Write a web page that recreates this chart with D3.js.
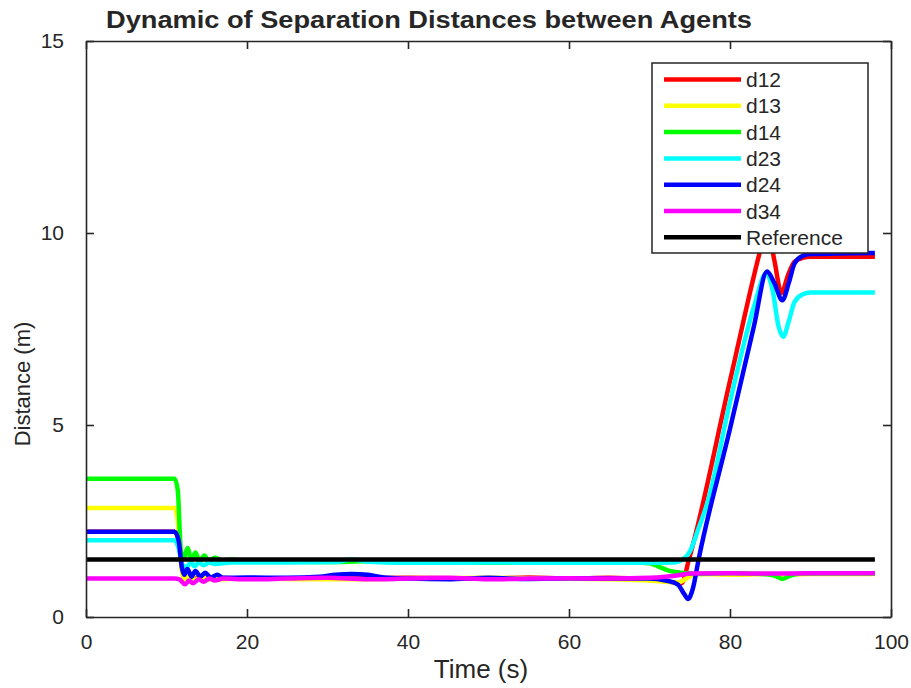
<!DOCTYPE html>
<html>
<head>
<meta charset="utf-8">
<script src="https://cdn.jsdelivr.net/npm/d3@7"></script>
<style>
  body { margin: 0; background: #fff; }
  text { font-family: "Liberation Sans", Arial, sans-serif; fill: #262626; }
</style>
</head>
<body>
<div id="chart"></div>
<script>
// series as [time (s), distance (m)]
const d12 = [[0,2.22],[11,2.22],[11.5,2.0],[12,1.2],[12.3,0.95],[12.8,1.05],[13.3,0.97],[14,1.03],[15,0.98],[16,1.02],[20,1.0],[30,1.0],[40,1.02],[50,1.0],[55,1.03],[60,1.0],[65,1.02],[70,0.97],[72,0.93],[74,0.88],[74.9,1.5],[80,6.15],[83.7,9.5],[84.6,10.2],[85.5,9.3],[86.4,8.44],[87.2,8.9],[88,9.25],[89,9.35],[90,9.38],[98,9.38]];
const d13 = [[0,2.84],[11,2.84],[11.4,2.5],[11.9,1.2],[12.3,0.95],[12.8,1.05],[13.5,0.97],[14.3,1.03],[15.5,0.98],[20,1.0],[30,0.98],[40,1.0],[50,1.02],[60,1.0],[65,0.98],[70,0.95],[72,0.92],[73.5,0.9],[75,1.05],[76,1.12],[80,1.1],[85,1.12],[87,1.1],[90,1.12],[98,1.12]];
const d14 = [[0,3.6],[11,3.6],[11.4,3.3],[11.8,1.7],[12.2,1.55],[12.6,1.8],[13.1,1.5],[13.6,1.68],[14.1,1.45],[14.7,1.6],[15.3,1.45],[16,1.55],[17,1.45],[18,1.5],[20,1.45],[25,1.44],[30,1.43],[35,1.45],[40,1.42],[45,1.44],[50,1.41],[55,1.43],[60,1.42],[65,1.41],[68,1.42],[70,1.4],[71.3,1.3],[72.5,1.2],[74,1.15],[76,1.12],[80,1.14],[84,1.12],[85.5,1.08],[86.5,0.99],[87.5,1.08],[89,1.13],[98,1.13]];
const d23 = [[0,2.0],[11,2.0],[11.5,1.8],[12,1.35],[12.5,1.3],[13,1.42],[13.5,1.32],[14,1.42],[14.6,1.35],[15.3,1.42],[16,1.38],[18,1.42],[25,1.42],[31,1.43],[33,1.5],[35,1.44],[40,1.41],[50,1.42],[60,1.41],[70,1.41],[73,1.42],[74,1.48],[75,1.7],[76,2.25],[77.3,3.05],[80,5.6],[83,8.1],[84.5,8.95],[85.3,8.5],[86,7.6],[86.6,7.3],[87.3,7.7],[88,8.2],[89,8.4],[90,8.45],[98,8.45]];
const d24 = [[0,2.22],[11,2.22],[11.5,2.0],[11.9,1.3],[12.2,1.1],[12.6,1.25],[13.1,1.05],[13.6,1.2],[14.2,1.05],[14.8,1.15],[15.5,1.03],[16.3,1.1],[17,1.02],[20,1.03],[25,1.02],[29,1.05],[31,1.1],[33,1.12],[35,1.1],[37,1.03],[40,1.0],[45,0.98],[50,1.02],[55,0.99],[60,1.01],[65,1.0],[70,1.0],[72,0.95],[73.5,0.85],[74.3,0.6],[74.8,0.47],[75.4,0.75],[76.1,1.5],[80,4.9],[83,7.6],[84.6,9.0],[85.5,8.7],[86.5,8.25],[87.3,8.7],[88,9.2],[89,9.4],[90,9.45],[98,9.48]];
const d34 = [[0,1.0],[11,1.0],[11.6,0.98],[12.3,0.85],[12.8,0.95],[13.3,0.88],[14,0.98],[14.6,0.92],[15.3,1.0],[16,0.95],[17,1.0],[20,0.98],[25,1.0],[30,1.02],[35,0.98],[40,1.0],[45,1.02],[50,0.98],[55,1.0],[60,1.01],[65,1.0],[70,1.02],[72,1.05],[74,1.1],[75,1.13],[80,1.14],[85,1.13],[90,1.14],[98,1.14]];
const reference = [[0,1.5],[98,1.5]];

const seriesNames = ["d12", "d13", "d14", "d23", "d24", "d34", "Reference"];
const seriesColors = ["#ff0000", "#ffff00", "#00ff00", "#00ffff", "#0000ff", "#ff00ff", "#000000"];
const xTicks = [0, 20, 40, 60, 80, 100];
const yTicks = [0, 5, 10, 15];

const width = 911, height = 688;
const margin = { top: 41, left: 86 };
const innerWidth = 891 - margin.left;
const innerHeight = 617 - margin.top;

const svg = d3.select("#chart")
    .append("svg")
    .attr("width", width)
    .attr("height", height);

const g = svg.append("g")
    .attr("transform", `translate(${margin.left},${margin.top})`);

const xScale = d3.scaleLinear().domain([0, 100]).range([0, innerWidth]);
const yScale = d3.scaleLinear().domain([0, 15]).range([innerHeight, 0]);

// lines
const line = d3.line()
    .x(d => xScale(d[0]))
    .y(d => yScale(d[1]))
    .curve(d3.curveMonotoneX);

const allSeries = [d12, d13, d14, d23, d24, d34, reference];
allSeries.forEach((s, i) => {
    g.append("path")
        .datum(s)
        .attr("fill", "none")
        .attr("stroke", seriesColors[i])
        .attr("stroke-width", 4.5)
        .attr("stroke-linejoin", "round")
        .attr("d", line);
});

// axes box, ticks pointing inwards
function styleAxis(sel) {
    sel.select(".domain").attr("stroke", "#262626").attr("stroke-width", 1.6);
    sel.selectAll(".tick line").attr("stroke", "#262626").attr("stroke-width", 1.6);
    sel.selectAll(".tick text")
        .attr("font-family", "Liberation Sans, Arial, sans-serif")
        .attr("font-size", 21)
        .attr("fill", "#262626");
}
function noLabels(sel) {
    sel.selectAll(".tick text").remove();
}

g.append("g")
    .attr("transform", `translate(0,${innerHeight})`)
    .call(d3.axisBottom(xScale).tickValues(xTicks).tickSizeInner(-8).tickSizeOuter(0).tickPadding(17))
    .call(styleAxis);

g.append("g")
    .call(d3.axisTop(xScale).tickValues(xTicks).tickSizeInner(-8).tickSizeOuter(0))
    .call(styleAxis)
    .call(noLabels);

g.append("g")
    .call(d3.axisLeft(yScale).tickValues(yTicks).tickSizeInner(-8).tickSizeOuter(0).tickPadding(22))
    .call(styleAxis);

g.append("g")
    .attr("transform", `translate(${innerWidth},0)`)
    .call(d3.axisRight(yScale).tickValues(yTicks).tickSizeInner(-8).tickSizeOuter(0))
    .call(styleAxis)
    .call(noLabels);

// legend
const legend = svg.append("g").attr("transform", "translate(652,63)");
legend.append("rect")
    .attr("width", 216)
    .attr("height", 190)
    .attr("fill", "#fff")
    .attr("stroke", "#262626")
    .attr("stroke-width", 1.5);

seriesNames.forEach((name, i) => {
    const y = 16.5 + i * 26.3;
    legend.append("line")
        .attr("x1", 12).attr("x2", 89)
        .attr("y1", y).attr("y2", y)
        .attr("stroke", seriesColors[i])
        .attr("stroke-width", 4.5);
    legend.append("text")
        .attr("x", 94)
        .attr("y", y + 7.5)
        .attr("font-size", 21)
        .attr("fill", "#000")
        .text(name);
});

// title
svg.append("text")
    .attr("x", 106)
    .attr("y", 28)
    .attr("font-size", 23)
    .attr("font-weight", "bold")
    .attr("fill", "#000")
    .attr("textLength", 646)
    .attr("lengthAdjust", "spacingAndGlyphs")
    .text("Dynamic of Separation Distances between Agents");

// axis labels
svg.append("text")
    .attr("x", 481)
    .attr("y", 678)
    .attr("text-anchor", "middle")
    .attr("font-size", 26)
    .text("Time (s)");

svg.append("text")
    .attr("transform", "rotate(-90)")
    .attr("x", -384)
    .attr("y", 30)
    .attr("text-anchor", "middle")
    .attr("font-size", 22)
    .text("Distance (m)");
</script>
</body>
</html>
